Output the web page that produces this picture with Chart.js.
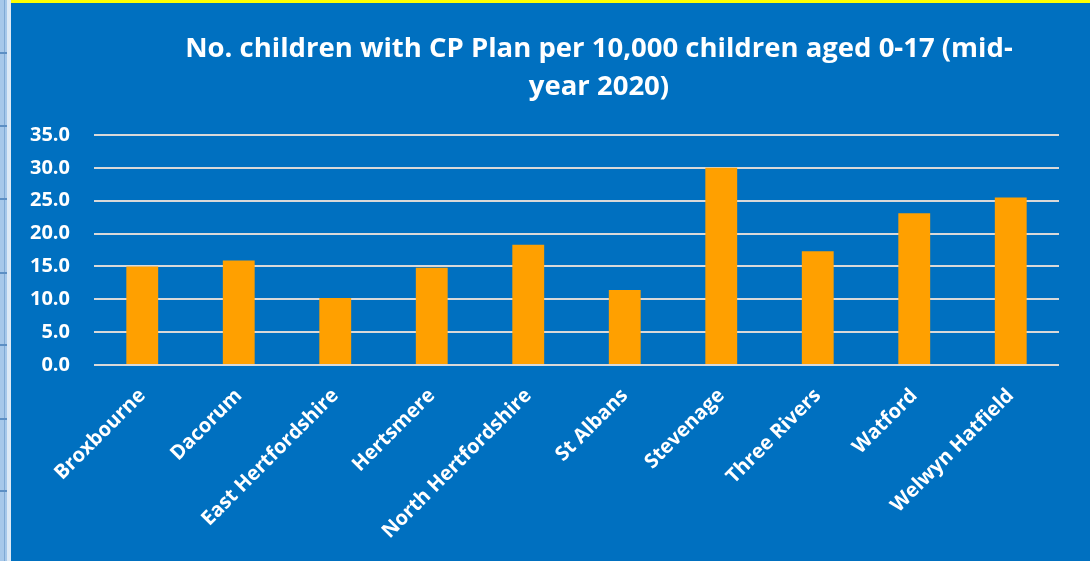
<!DOCTYPE html>
<html lang="en">
  <head>
    <meta charset="UTF-8" />
    <title>CP Plans per 10,000 children</title>
    <script src="https://cdn.jsdelivr.net/npm/chart.js"></script>
    <style>
      html, body { margin: 0; width: 1090px; height: 561px; overflow: hidden; background: #a6c8ea; }
      #strip { position: absolute; left: 0; top: 0; width: 11px; height: 561px; }
      #strip .line { position: absolute; left: 4px; top: 0; width: 1px; height: 561px; background: #7fa9d4; }
      #strip .edge { position: absolute; left: 7px; top: 0; width: 4px; height: 561px; background: #dce9f6; }
      #strip .mark { position: absolute; left: 0; width: 7px; height: 2px; background: #5c8fc4; }
      #topbar { position: absolute; left: 11px; top: 0; width: 1079px; height: 3px; background: #ffff00; }
      #wrap { position: absolute; left: 11px; top: 3px; width: 1079px; height: 558px; background: #0070c0; }
      #title {
        position: absolute; left: 99px; top: 28px; width: 1000px;
        text-align: center; white-space: nowrap;
        color: #fff; font: bold 27.5px "Open Sans", sans-serif; line-height: 38px;
      }
    </style>
  </head>
  <body>
    <div id="strip">
      <div class="line"></div>
      <div class="edge"></div>
    </div>
    <div id="topbar"></div>
    <div id="wrap">
      <canvas id="cpChart" width="1079" height="558"></canvas>
    </div>
    <div id="title">No. children with CP Plan per 10,000 children aged 0-17 (mid-<br />year 2020)</div>

    <script>
      const districts = [
        "Broxbourne",
        "Dacorum",
        "East Hertfordshire",
        "Hertsmere",
        "North Hertfordshire",
        "St Albans",
        "Stevenage",
        "Three Rivers",
        "Watford",
        "Welwyn Hatfield",
      ];
      const cpRates = [15.0, 15.9, 10.2, 14.8, 18.3, 11.4, 30.0, 17.3, 23.1, 25.5];
      const yMax = 35;
      const yStep = 5;

      // little marks down the left edge
      const strip = document.getElementById("strip");
      [52, 125, 198, 272, 344, 418, 490].forEach((y) => {
        const m = document.createElement("div");
        m.className = "mark";
        m.style.top = y + "px";
        strip.appendChild(m);
      });

      const ctx = document.getElementById("cpChart").getContext("2d");
      new Chart(ctx, {
        type: "bar",
        data: {
          labels: districts,
          datasets: [
            {
              data: cpRates,
              backgroundColor: "#ffa000",
              barPercentage: 0.66,
              categoryPercentage: 0.5,
            },
          ],
        },
        options: {
          responsive: false,
          animation: false,
          layout: { padding: { top: 132, left: 0, right: 31, bottom: 0 } },
          plugins: {
            legend: { display: false },
            tooltip: { enabled: false },
          },
          scales: {
            x: {
              grid: { display: false },
              border: { display: false },
              ticks: {
                color: "#fff",
                font: { family: "Open Sans", weight: "bold", size: 20 },
                minRotation: 45,
                maxRotation: 45,
                padding: 11,
              },
              afterFit: (scale) => { scale.height = 196; },
            },
            y: {
              min: 0,
              max: yMax,
              grid: { color: "#d9d9d9", lineWidth: 2, drawTicks: false },
              border: { display: false },
              ticks: {
                stepSize: yStep,
                color: "#fff",
                font: { family: "Open Sans", weight: "bold", size: 20 },
                padding: 24,
                callback: (v) => v.toFixed(1),
              },
              afterFit: (scale) => { scale.width = 83; },
            },
          },
        },
      });
    </script>
  </body>
</html>
